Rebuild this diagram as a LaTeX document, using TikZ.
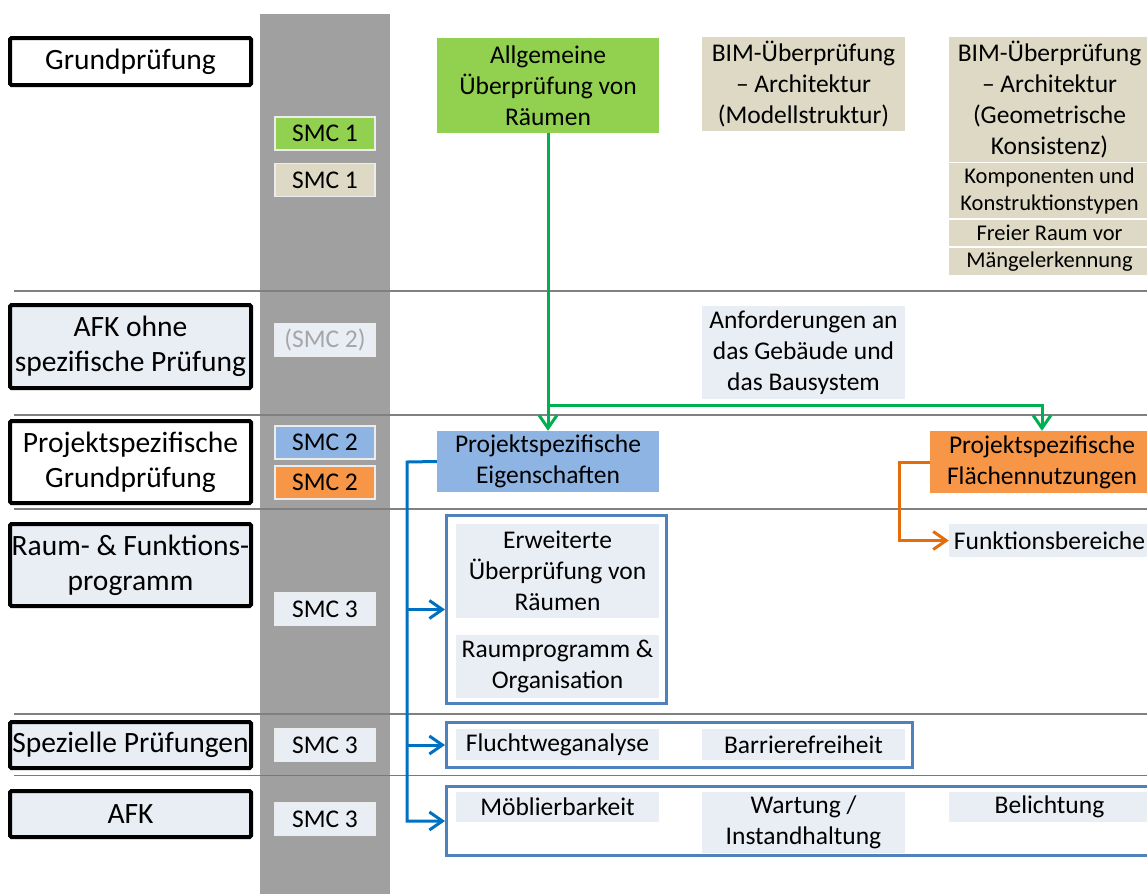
\documentclass[tikz,border=0pt]{standalone}
\usepackage{fontspec}
\setmainfont{Carlito}
\usepackage{tikz}
\usetikzlibrary{arrows.meta, positioning}
\definecolor{hell}{HTML}{E9EDF4}
\definecolor{gruenbox}{HTML}{92D050}
\definecolor{beige}{HTML}{DDD9C4}
\definecolor{blaubox}{HTML}{8EB4E3}
\definecolor{orangebox}{HTML}{F79646}
\definecolor{gruenlinie}{HTML}{00B050}
\definecolor{blaulinie}{HTML}{0070C0}
\definecolor{orangelinie}{HTML}{E46C0A}
\definecolor{rahmen}{HTML}{4F81BD}
\definecolor{saeule}{HTML}{A0A0A0}
\definecolor{trenn}{HTML}{808080}
\newcommand{\ebenefont}{\fontsize{29.5}{35}\selectfont}
\newcommand{\boxfont}{\fontsize{25.5}{31}\selectfont}
\newcommand{\kleinfont}{\fontsize{22.5}{27}\selectfont}
\tikzset{
  ebene/.style={rectangle, draw=black, line width=4pt, rounded corners=1.5pt, fill=hell,
                minimum width=241pt, inner sep=0pt, align=center, font=\ebenefont},
  smc/.style={rectangle, draw=white!85!gray, line width=1.5pt, fill=hell,
              minimum width=100pt, minimum height=33pt, inner sep=0pt, font=\boxfont},
  pruef/.style={rectangle, fill=hell, minimum width=203pt, inner sep=0pt, align=center,
                font=\boxfont},
  gruppe/.style={rectangle, draw=rahmen, line width=3pt, fill=white, inner sep=0pt},
  trennlinie/.style={draw=trenn, line width=2pt},
  arc/.style={-{Straight Barb[length=13pt, width=18pt]}, line width=3pt}
}

\begin{document}
\begin{tikzpicture}[x=1pt, y=-1pt]
  \useasboundingbox (0,0) rectangle (1147,894);
  \clip (0,0) rectangle (1147,894);
  \fill[saeule] (260,14) rectangle (390,894);
  \foreach \y in {291,415,509,714} \draw[trennlinie] (14,\y) -- (1147,\y);
  \draw[rahmen, line width=1.5pt] (14,775.5) -- (1147,775.5);

  % Ebenen links
  \node[ebene, fill=white, minimum height=47pt] (grund) at (130.5,61.5) {Grundprüfung};
  \node[ebene, minimum height=83pt] (ohne) at (130.5,346.5) {AFK ohne\\spezifische Prüfung};
  \node[ebene, fill=white, minimum height=82pt] (projekt) at (130.5,462) {Projektspezifische\\Grundprüfung};
  \node[ebene, minimum height=82pt] (raum) at (130.5,565) {Raum- \& Funktions-\\programm};
  \node[ebene, minimum height=46pt] (spez) at (130.5,745) {Spezielle Prüfungen};
  \node[ebene, minimum height=46pt] (afk) at (130.5,814) {AFK};

  % SMC-Stufen
  \foreach \n/\y/\c/\t in {s1a/133.5/gruenbox/SMC 1, s1b/180/beige/SMC 1,
      s2a/442.5/blaubox/SMC 2, s2b/482.5/orangebox/SMC 2,
      s3a/609/hell/SMC 3, s3b/745/hell/SMC 3, s3c/819/hell/SMC 3}
    \node[smc, fill=\c] (\n) at (325,\y) {\t};
  \node[smc, text=black!35] (s2x) at (325,340) {(SMC 2)};

  % Gruppenrahmen
  \node[gruppe, minimum width=220pt, minimum height=188pt] (gr1) at (556.5,609.5) {};
  \node[gruppe, minimum width=466pt, minimum height=45pt] (gr2) at (679.5,745) {};
  \node[gruppe, minimum width=714pt, minimum height=69pt] (gr3) at (803.5,821) {};

  % Pruefungen
  \node[pruef, fill=gruenbox, minimum width=222pt, minimum height=95pt] (allg) at (548,85.5)
       {Allgemeine\\Überprüfung von\\Räumen};
  \node[pruef, fill=beige, minimum height=94pt] (bima) at (803.5,84)
       {BIM-Überprüfung\\– Architektur\\(Modellstruktur)};
  \node[pruef, fill=beige, minimum width=201pt, minimum height=125pt] (bimb) at (1049.5,99.5)
       {BIM-Überprüfung\\– Architektur\\(Geometrische\\Konsistenz)};
  \node[pruef, fill=beige, minimum width=201pt, minimum height=55pt, font=\kleinfont] (komp)
       at (1049.5,190.5) {Komponenten und\\Konstruktionstypen};
  \node[pruef, fill=beige, minimum width=201pt, minimum height=26pt, font=\kleinfont] (frei)
       at (1049.5,233) {Freier Raum vor};
  \node[pruef, fill=beige, minimum width=201pt, minimum height=27pt, font=\kleinfont] (maengel)
       at (1049.5,261.5) {Mängelerkennung};
  \node[pruef, minimum height=93pt] (anf) at (803.5,352.5)
       {Anforderungen an\\das Gebäude und\\das Bausystem};
  \node[pruef, fill=blaubox, minimum width=222pt, minimum height=61pt] (eig) at (548,461.5)
       {Projektspezifische\\Eigenschaften};
  \node[pruef, fill=orangebox, minimum width=224pt, minimum height=62pt] (flaeche) at (1042,462)
       {Projektspezifische\\Flächennutzungen};
  \node[pruef, minimum width=201pt, minimum height=33pt] (funk) at (1049.5,540.5) {Funktionsbereiche};
  \node[pruef, minimum height=94pt] (erw) at (557.5,571) {Erweiterte\\Überprüfung von\\Räumen};
  \node[pruef, minimum height=63pt] (raump) at (557.5,666.5) {Raumprogramm \&\\Organisation};
  \node[pruef, minimum height=31pt] (flucht) at (557.5,744.5) {Fluchtweganalyse};
  \node[pruef, minimum height=31pt] (barr) at (803.5,744.5) {Barrierefreiheit};
  \node[pruef, minimum height=30pt] (moebl) at (557.5,807) {Möblierbarkeit};
  \node[pruef, minimum height=61pt] (wart) at (803.5,822.5) {Wartung /\\Instandhaltung};
  \node[pruef, minimum width=201pt, minimum height=30pt] (belicht) at (1049.5,807) {Belichtung};

  % Verbindungen
  \coordinate (gknick) at (548,405.5);
  \coordinate (bknick) at (407,462);
  \coordinate (oknick) at (899,462);
  \draw[arc, gruenlinie] (allg.south) -- (eig.north);
  \draw[arc, gruenlinie] (gknick) -| (flaeche.north);
  \draw[arc, orangelinie] (flaeche.west) -- (oknick) |- (funk.west);
  \draw[arc, blaulinie] (eig.west) -- (bknick) |- (gr3.west);
  \foreach \g in {gr1, gr2} \draw[arc, blaulinie] (bknick |- \g.west) -- (\g.west);
\end{tikzpicture}
\end{document}
